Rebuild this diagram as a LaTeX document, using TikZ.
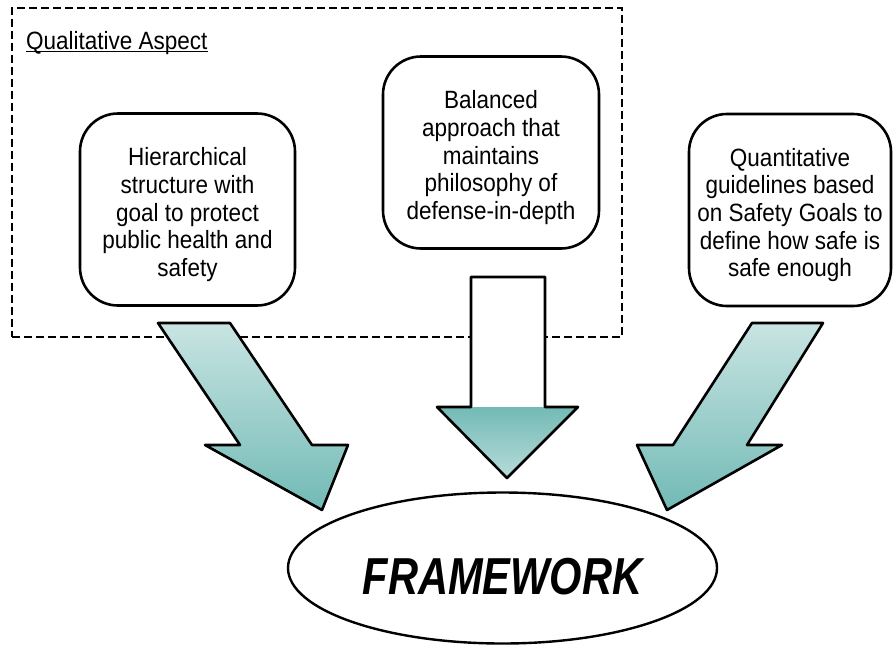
\documentclass[tikz,border=0pt]{standalone}
\usepackage{fontspec}
\setmainfont{Liberation Sans}
\newfontfamily\narrowfont[FakeStretch=0.9]{Liberation Sans}
\newfontfamily\titlefont[FakeStretch=0.8]{Liberation Sans}
\usetikzlibrary{shapes.geometric,positioning}
\definecolor{seafoam}{RGB}{98,178,173}
\definecolor{ink}{RGB}{0,0,0}
\tikzset{
  idea/.style={draw=ink,line width=2.6pt,rounded corners=38pt,fill=white,
    minimum width=#1,minimum height=192pt,align=center,inner sep=0pt,
    text height=139pt,font=\narrowfont\fontsize{25}{27.7}\selectfont},
  idea/.default=215pt,
  frame/.style={ellipse,draw=ink,line width=2.4pt,minimum width=429pt,
    minimum height=151pt,inner sep=0pt},
  frametext/.style={font=\titlefont\bfseries\itshape\fontsize{52}{60}\selectfont},
  region/.style={draw=ink,line width=1.4pt,dash pattern=on 8pt off 4pt,
    minimum width=610pt,minimum height=329pt,inner sep=0pt},
  blockarrow/.style={draw=ink,line width=2.6pt,line join=round,
    top color=seafoam!35,bottom color=seafoam!90},
}

\begin{document}
\begin{tikzpicture}[x=1pt,y=-1pt]
  \useasboundingbox (0,0) rectangle (893,646);
  % dashed region
  \node[region] (aspect) at (317,172.5) {};
  \node[anchor=base west,inner sep=0pt,font=\narrowfont\fontsize{25}{30}\selectfont] (qa) at (26,49) {Qualitative Aspect};
  \draw[ink,line width=1.3pt] ([yshift=-2.5pt]qa.base west) -- ([yshift=-2.5pt]qa.base east);
  % the three ideas
  \foreach \n/\x/\y/\w/\t in {
      hier/187.5/209.5/215pt/{Hierarchical\\structure with\\goal to protect\\public health and\\safety},
      bal/491/152.5/216pt/{Balanced\\approach that\\maintains\\philosophy of\\defense-in-depth},
      quant/790/210/202pt/{Quantitative\\guidelines based\\on Safety Goals to\\define how safe is\\safe enough}}{
    \node[idea=\w] (\n) at (\x,\y) {\t};
  }
  % arrows
  \path[blockarrow] (158,323) -- (230,323) -- (312,445) -- (348,445) -- (322,510)
    -- (205,445) -- (240,445) -- cycle;
  \path[blockarrow] (752,323) -- (823,323) -- (747,445) -- (782,445) -- (667,510)
    -- (637,445) -- (673,445) -- cycle;
  \fill[white] (471,277) -- (545,277) -- (545,407) -- (471,407) -- cycle;
  \shade[top color=seafoam!90,bottom color=seafoam!45] (437,407) -- (578,407) -- (507,478) -- cycle;
  \draw[ink,line width=2.6pt,line join=round] (471,277) -- (545,277) -- (545,407) -- (578,407)
    -- (507,478) -- (437,407) -- (471,407) -- cycle;
  % framework
  \node[frame] (fw) at (502.5,568) {};
  \node[frametext] (fwtext) at ([yshift=-8.5pt]fw.center) {FRAMEWORK};
\end{tikzpicture}
\end{document}
